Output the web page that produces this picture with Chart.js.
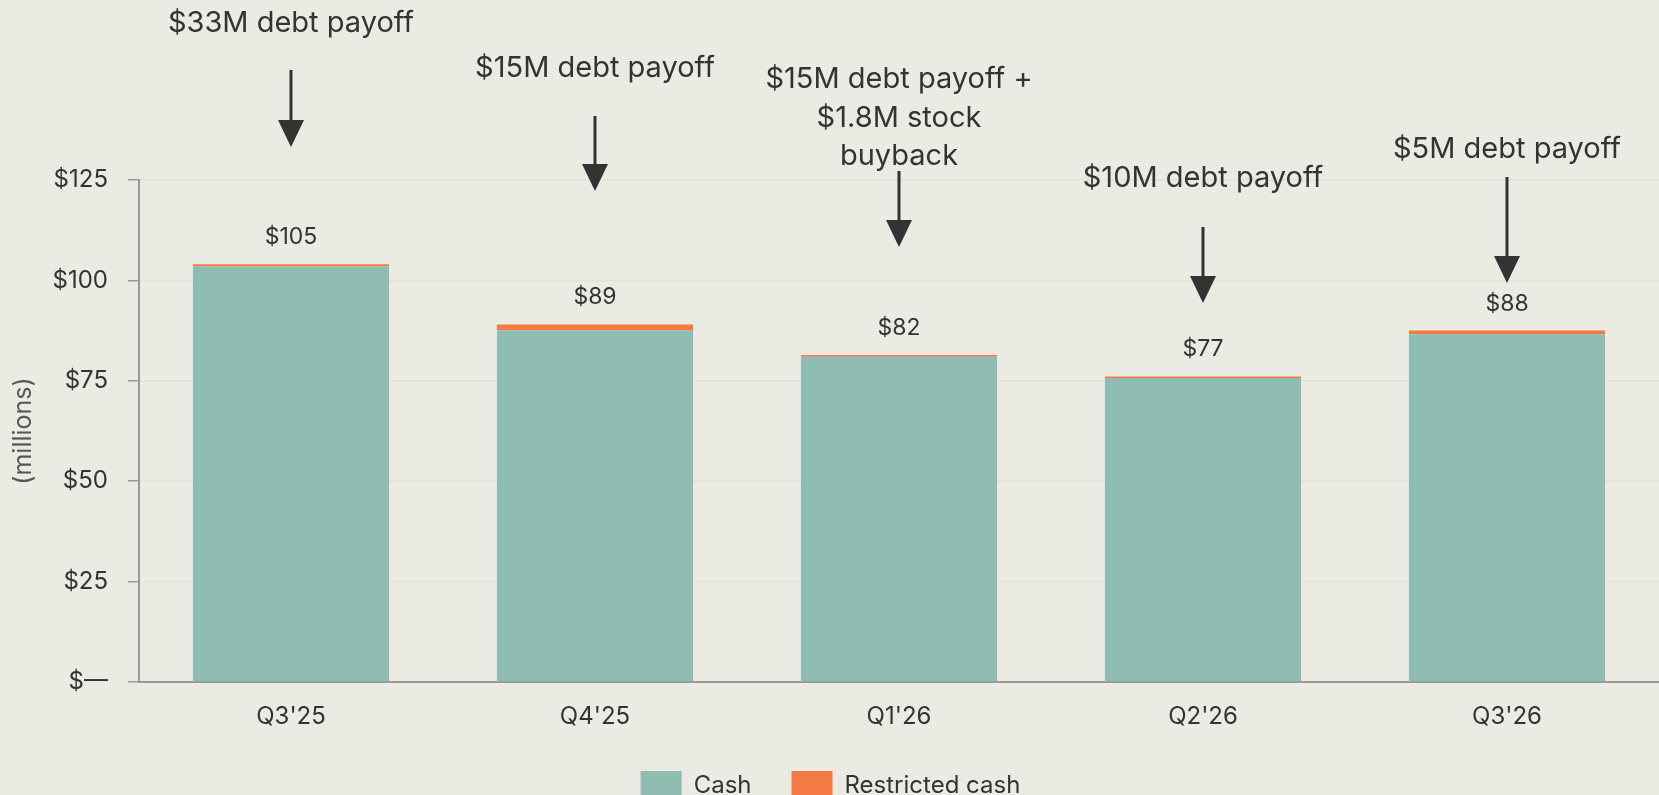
<!DOCTYPE html>
<html>
<head>
<meta charset="utf-8">
<script src="https://cdn.jsdelivr.net/npm/chart.js@4.4.1/dist/chart.umd.min.js"></script>
<style>
  html, body { margin: 0; padding: 0; background: #ebeae3; overflow: hidden; }
  #wrap { width: 1659px; height: 795px; overflow: hidden; }
  #box { width: 1659px; height: 811px; position: relative; }
</style>
</head>
<body>
<div id="wrap"><div id="box"><canvas id="cashChart"></canvas></div></div>
<script>
// Chart values
const quarters = ["Q3'25", "Q4'25", "Q1'26", "Q2'26", "Q3'26"];
const cash = [103.5, 87.5, 81.0, 75.7, 86.6];
const restrictedCash = [0.5, 1.5, 0.4, 0.4, 0.9];
const totalLabels = ['$105', '$89', '$82', '$77', '$88'];
const yTicks = [0, 25, 50, 75, 100, 125];

// Callout text per quarter
const notes = [
  ['$33M debt payoff'],
  ['$15M debt payoff'],
  ['$15M debt payoff +', '$1.8M stock', 'buyback'],
  ['$10M debt payoff'],
  ['$5M debt payoff']
];
// callout placement in px: first baseline, arrow start, arrow tip
const noteLayout = [
  [32, 70, 147],
  [77, 116, 191],
  [88, 171, 247],
  [187, 227, 303],
  [158, 177, 283]
];

const TEXT = '#333333';
const FONT = 'Inter, "Liberation Sans", sans-serif';

Chart.defaults.font.family = FONT;
Chart.defaults.color = TEXT;

const calloutPlugin = {
  id: 'callouts',
  afterDatasetsDraw(chart) {
    const ctx = chart.ctx;
    const xs = chart.scales.x;
    const meta = chart.getDatasetMeta(1);
    ctx.save();
    ctx.fillStyle = TEXT;
    ctx.textAlign = 'center';

    // totals above bars
    ctx.font = '23px ' + FONT;
    ctx.textBaseline = 'middle';
    meta.data.forEach((bar, i) => {
      ctx.fillText(totalLabels[i], bar.x, bar.y - 27);
    });

    // callouts with arrows
    ctx.font = '29px ' + FONT;
    ctx.textBaseline = 'alphabetic';
    notes.forEach((lines, i) => {
      const x = xs.getPixelForValue(i);
      const [base, a0, tip] = noteLayout[i];
      lines.forEach((ln, k) => ctx.fillText(ln, x, base + k * 38.5));
      ctx.strokeStyle = TEXT;
      ctx.lineWidth = 3;
      ctx.beginPath();
      ctx.moveTo(x, a0);
      ctx.lineTo(x, tip - 26);
      ctx.stroke();
      ctx.beginPath();
      ctx.moveTo(x - 13, tip - 27);
      ctx.lineTo(x + 13, tip - 27);
      ctx.lineTo(x, tip);
      ctx.closePath();
      ctx.fill();
    });
    ctx.restore();
  }
};

new Chart(document.getElementById('cashChart'), {
  type: 'bar',
  data: {
    labels: quarters,
    datasets: [
      { label: 'Cash', data: cash, backgroundColor: '#8fbdb1' },
      { label: 'Restricted cash', data: restrictedCash, backgroundColor: '#f47a43' }
    ]
  },
  options: {
    responsive: true,
    maintainAspectRatio: false,
    animation: false,
    datasets: { bar: { categoryPercentage: 1, barPercentage: 0.645 } },
    layout: { padding: { top: 180, right: -2, left: 0, bottom: 0 } },
    plugins: {
      tooltip: { enabled: false },
      legend: {
        position: 'bottom',
        labels: {
          boxWidth: 41,
          boxHeight: 30,
          padding: 40,
          font: { size: 24 },
          color: TEXT
        }
      }
    },
    scales: {
      x: {
        stacked: true,
        grid: { display: false, drawTicks: false },
        border: { color: '#999999', width: 2 },
        ticks: { font: { size: 24 }, padding: 20, color: TEXT },
        afterFit(s) { s.height = 49; }
      },
      y: {
        stacked: true,
        min: 0,
        max: 125,
        afterBuildTicks(s) { s.ticks = yTicks.map(v => ({ value: v })); },
        grid: { color: '#e2e2dc', tickColor: '#999999', tickLength: 11, lineWidth: 1.5 },
        border: { color: '#999999', width: 2 },
        ticks: {
          font: { size: 24 },
          padding: 20,
          color: TEXT,
          callback: v => v === 0 ? '$—' : '$' + v
        },
        title: {
          display: true,
          text: '(millions)',
          font: { size: 25 },
          color: '#555555',
          padding: { top: 8, bottom: 0 }
        },
        afterFit(s) { s.width = 139; }
      }
    }
  },
  plugins: [calloutPlugin]
});
</script>
</body>
</html>
